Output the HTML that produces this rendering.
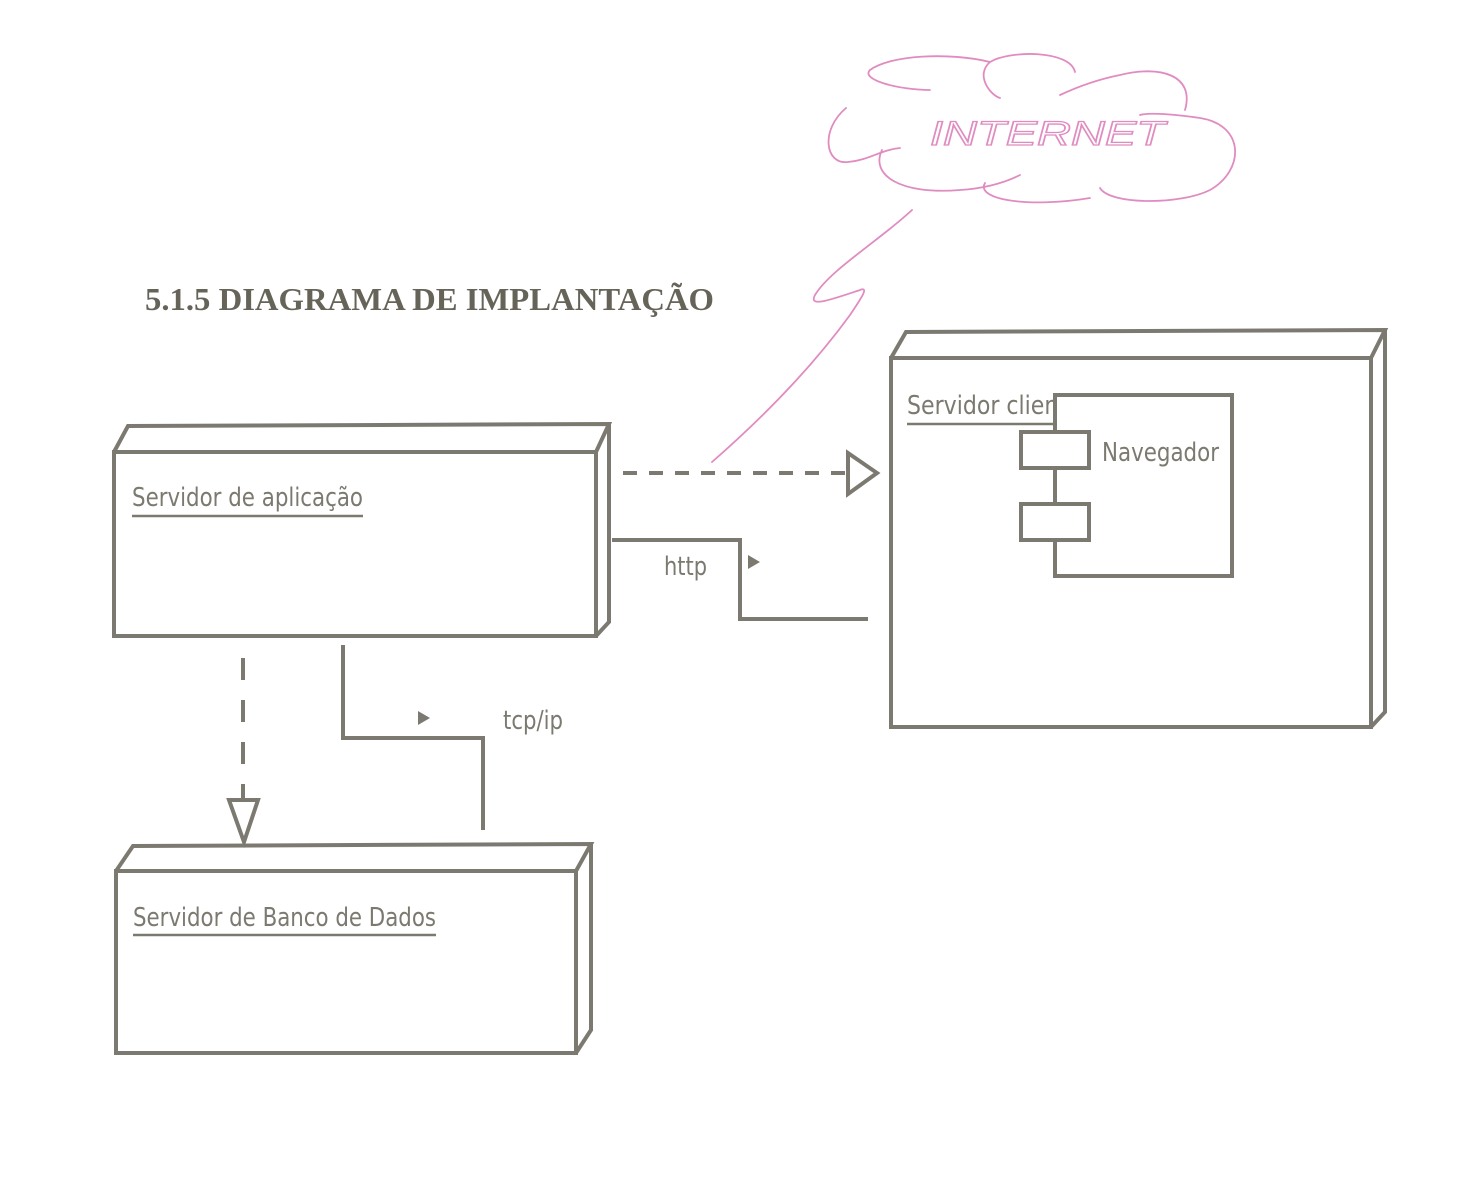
<!DOCTYPE html>
<html><head><meta charset="utf-8"><style>
html,body{margin:0;padding:0;background:#fff;}
svg{display:block}
</style></head><body>
<svg width="1472" height="1200" viewBox="0 0 1472 1200" xmlns="http://www.w3.org/2000/svg">
<rect width="1472" height="1200" fill="#fff"/>
<g fill="none" stroke="#e08cc0" stroke-width="1.8" stroke-linecap="round">
<path d="M846,108 C820,130 825,165 848,162 C870,160 880,150 900,148"/>
<path d="M882,150 C870,175 900,195 960,190 C990,188 1010,180 1020,175"/>
<path d="M985,183 C975,200 1030,208 1090,198"/>
<path d="M1100,188 C1110,205 1180,205 1210,190 C1245,170 1245,125 1200,118 C1180,115 1150,112 1140,115"/>
<path d="M1185,110 C1195,75 1160,65 1120,75 C1095,80 1075,88 1060,95"/>
<path d="M1075,72 C1070,50 1010,50 990,62 C975,75 990,95 1000,98"/>
<path d="M990,62 C950,52 890,55 870,70 C860,80 900,90 930,90"/>
<path d="M912,210 C880,240 830,270 815,295 C808,308 830,300 860,290 C870,286 860,300 850,315 C810,370 760,420 712,462"/>
</g>
<text x="930" y="145" font-family="Liberation Sans, sans-serif" font-size="34" font-style="italic" fill="none" stroke="#e08cc0" stroke-width="1.3" textLength="235" lengthAdjust="spacingAndGlyphs">INTERNET</text>
<text x="145" y="310" font-family="Liberation Serif, serif" font-weight="bold" font-size="32" fill="#666359" textLength="569" lengthAdjust="spacingAndGlyphs">5.1.5 DIAGRAMA DE IMPLANTAÇÃO</text>
<g font-family="DejaVu Sans Condensed, DejaVu Sans, sans-serif" fill="#7c7a70" font-size="26">
<text x="132" y="506" textLength="231" lengthAdjust="spacingAndGlyphs">Servidor de aplicação</text>
<text x="133" y="926" textLength="303" lengthAdjust="spacingAndGlyphs">Servidor de Banco de Dados</text>
<text x="907" y="414" textLength="160" lengthAdjust="spacingAndGlyphs">Servidor client</text>
<text x="664" y="575" textLength="43" lengthAdjust="spacingAndGlyphs">http</text>
<text x="503" y="729" textLength="60" lengthAdjust="spacingAndGlyphs">tcp/ip</text>
</g>
<g fill="none" stroke="#7c7a70" stroke-width="4" stroke-linejoin="miter">
<rect x="114" y="452" width="482" height="184"/>
<path d="M114,452 L128,426 L609,424 L596,452 M609,424 L609,622 L596,636"/>
<rect x="891" y="358" width="480" height="369"/>
<path d="M891,358 L906,332 L1385,330 L1371,358 M1385,330 L1385,712 L1371,727"/>
<rect x="116" y="871" width="460" height="182"/>
<path d="M116,871 L133,846 L591,844 L576,871 M591,844 L591,1030 L576,1053"/>
<rect x="1055" y="395" width="177" height="181" fill="#fff"/>
<rect x="1021" y="432" width="68" height="36" fill="#fff"/>
<rect x="1021" y="504" width="68" height="36" fill="#fff"/>
<path d="M612,540 L740,540 L740,619 L868,619"/>
<path d="M343,645 L343,738 L483,738 L483,830"/>
<path d="M623,473 L848,473" stroke-dasharray="14,12"/>
<path d="M848,453 L877,473 L848,494 Z" fill="#fff"/>
<path d="M243,658 L243,800" stroke-dasharray="22,20"/>
<path d="M229,800 L258,800 L244,842 Z" fill="#fff"/>
</g>
<g fill="#7c7a70">
<path d="M748,555 L760,562 L748,569 Z"/>
<path d="M418,711 L430,718 L418,725 Z"/>
</g>
<text x="1102" y="461" font-family="DejaVu Sans Condensed, DejaVu Sans, sans-serif" fill="#7c7a70" font-size="26" textLength="117" lengthAdjust="spacingAndGlyphs">Navegador</text>
<g stroke="#7c7a70" stroke-width="2.5">
<line x1="132" y1="516" x2="363" y2="516"/>
<line x1="133" y1="935" x2="436" y2="935"/>
<line x1="907" y1="424" x2="1053" y2="424"/>
</g>
</svg>
</body></html>
